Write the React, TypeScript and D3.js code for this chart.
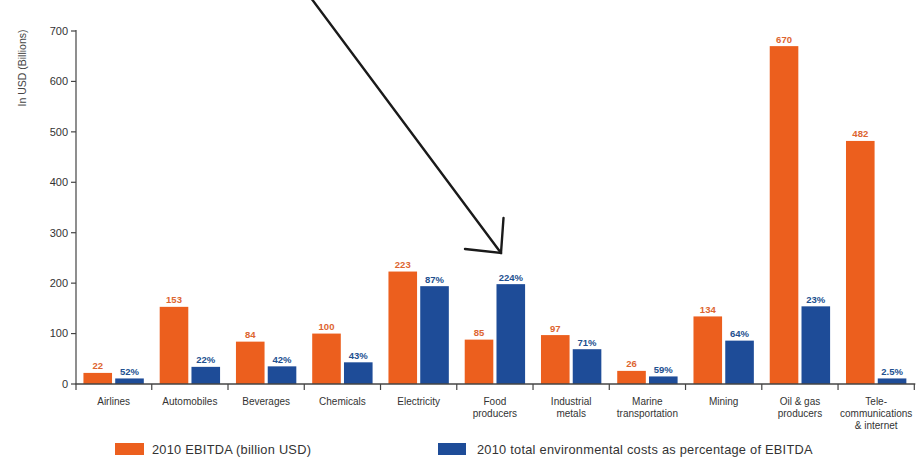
import React from "react";
import * as d3 from "d3";

const categories = [
  ["Airlines"],
  ["Automobiles"],
  ["Beverages"],
  ["Chemicals"],
  ["Electricity"],
  ["Food", "producers"],
  ["Industrial", "metals"],
  ["Marine", "transportation"],
  ["Mining"],
  ["Oil & gas", "producers"],
  ["Tele-", "communications", "& internet"],
];
const ebitda = [22, 153, 84, 100, 223, 88, 97, 26, 134, 670, 482];
const ebitdaLabels = ["22", "153", "84", "100", "223", "85", "97", "26", "134", "670", "482"];
const envCost = [11, 34, 35, 43, 194, 198, 69, 15, 86, 154, 11];
const envLabels = ["52%", "22%", "42%", "43%", "87%", "224%", "71%", "59%", "64%", "23%", "2.5%"];
const yTicks = [0, 100, 200, 300, 400, 500, 600, 700];
const legendLabels = ["2010 EBITDA (billion USD)", "2010 total environmental costs as percentage of EBITDA"];

const ORANGE = "#EC5F1E";
const BLUE = "#1E4C98";
const ORANGE_TXT = "#DD6530";
const BLUE_TXT = "#22508F";
const FONT = "'Liberation Sans', Arial, sans-serif";

export default function App() {
  const W = 922, H = 459;
  const x0 = 75.5, x1 = 914.3;
  const yTop = 31, yBase = 384;
  const ids = categories.map((_, i) => String(i));
  const x = d3.scaleBand().domain(ids).range([x0, x1]).paddingInner(0).paddingOuter(0);
  const sub = d3.scaleBand().domain(["o", "b"]).range([0, x.bandwidth()]).paddingInner(0.1).paddingOuter(0.25);
  const y = d3.scaleLinear().domain([0, 700]).range([yBase, yTop]);
  const bw = sub.bandwidth();
  const sepTicks = ids.map((id) => (x(id) as number) + x.bandwidth());

  return (
    <svg width={W} height={H} style={{ position: "absolute", left: 0, top: 0, background: "#fff" }} fontFamily={FONT}>
      {/* y axis label */}
      <text transform={`translate(26,${68}) rotate(-90)`} textAnchor="middle" fontSize={10.5} fill="#444">
        In USD (Billions)
      </text>
      {/* y axis */}
      <line x1={76} x2={76} y1={yTop - 1} y2={yBase + 6} stroke="#444" strokeWidth={1.2} />
      {yTicks.map((t) => (
        <g key={t}>
          <line x1={71} x2={76} y1={y(t)} y2={y(t)} stroke="#444" strokeWidth={1.2} />
          <text x={68} y={y(t)} dy="0.35em" textAnchor="end" fontSize={11} fill="#333">
            {t}
          </text>
        </g>
      ))}
      {/* bars */}
      {ids.map((id, i) => {
        const bx = x(id) as number;
        const ox = bx + (sub("o") as number);
        const blx = bx + (sub("b") as number);
        return (
          <g key={id}>
            <rect x={ox} y={y(ebitda[i])} width={bw} height={yBase - y(ebitda[i])} fill={ORANGE} />
            <rect x={blx} y={y(envCost[i])} width={bw} height={yBase - y(envCost[i])} fill={BLUE} />
            <text x={ox + bw / 2} y={y(ebitda[i]) - 3.5} textAnchor="middle" fontSize={9.5} fontWeight="bold" fill={ORANGE_TXT}>
              {ebitdaLabels[i]}
            </text>
            <text x={blx + bw / 2} y={y(envCost[i]) - 3.5} textAnchor="middle" fontSize={9.5} fontWeight="bold" fill={BLUE_TXT}>
              {envLabels[i]}
            </text>
            {categories[i].map((line, k) => (
              <text key={k} x={bx + x.bandwidth() / 2} y={405 + k * 11.8} textAnchor="middle" fontSize={10} fill="#333">
                {line}
              </text>
            ))}
          </g>
        );
      })}
      {/* x axis */}
      <line x1={x0} x2={x1 + 1} y1={yBase} y2={yBase} stroke="#444" strokeWidth={1.4} />
      {sepTicks.map((t, i) => (
        <line key={i} x1={t} x2={t} y1={yBase} y2={yBase + 6} stroke="#444" strokeWidth={1.2} />
      ))}
      {/* legend */}
      <rect x={115} y={443} width={29} height={12} fill={ORANGE} />
      <text x={152} y={454} fontSize={12.8} letterSpacing={0.25} fill="#333">{legendLabels[0]}</text>
      <rect x={438} y={443} width={28} height={12} fill={BLUE} />
      <text x={477} y={454} fontSize={12.8} letterSpacing={0.25} fill="#333">{legendLabels[1]}</text>
      {/* annotation arrow */}
      <g stroke="#1a1a1a" strokeWidth={2.4} fill="none" strokeLinecap="round" strokeLinejoin="miter">
        <line x1={311} y1={-2} x2={501} y2={253} />
        <polyline points="465,249 501,253 503.5,218" />
      </g>
    </svg>
  );
}
